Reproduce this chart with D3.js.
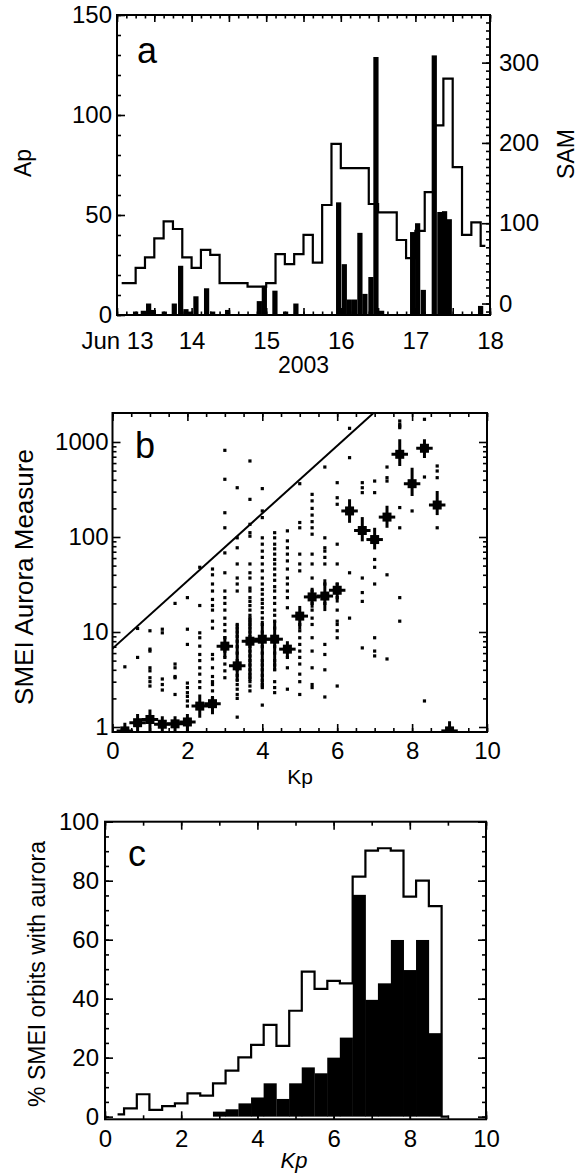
<!DOCTYPE html>
<html lang="en">
<head>
  <meta charset="UTF-8">
  <title>SMEI aurora and Kp</title>
  <script src="https://d3js.org/d3.v7.min.js"></script>
  <style>
    body { margin: 0; background: #fff; }
    svg { display: block; }
    text { font-family: "Liberation Sans", Arial, Helvetica, sans-serif; fill: #000; }
  </style>
</head>
<body>
<svg id="fig"></svg>
<script>
  // ---- panel a: 3-hourly Ap, June 13-18 2003, and SAM per SMEI orbit
  const apVals = [15.9, 15.9, 23.6, 28.8, 38.3, 46.8, 43, 28.8, 23.6, 32.6,
                  30.1, 15.9, 15.9, 15.9, 14.2, 14.2, 15.9, 30.4, 25.4, 30.4,
                  40.1, 26.2, 55, 85.6, 73.4, 73.4, 73.4, 55.5, 51.3, 51.3,
                  37.5, 28.4, 42.1, 61.4, 94.8, 118.2, 73.9, 40.1, 46.3, 34.6];
  const samDay = [13.214, 13.318, 13.389, 13.452, 13.599, 13.733, 13.818, 13.889, 13.942, 14.023,
                  14.166, 14.247, 14.448, 14.873, 14.940, 15.082, 15.225, 15.363, 15.936, 16.012,
                  16.079, 16.150, 16.221, 16.288, 16.369, 16.436, 16.512, 16.928, 16.995, 17.071,
                  17.218, 17.293, 17.356, 17.419, 17.839];
  const samVal = [-10, -9, 0, -8, -10, 0, 47, -7, -10, 9,
                  19, -10, -8, 3, 22, 16, -10, 0, 126, 49,
                  5, 5, 88, 12, 33, 307, -9, 89, 100, 17,
                  309, 114, 115, 105, -3];
  const orbitDays = 101 / 1440;

  // ---- panel b: medians per Kp with spread, fitted line, individual orbits
  const medKp  = [0.33, 0.67, 1, 1.33, 1.67, 2, 2.33, 2.67, 3, 3.33, 3.67, 4, 4.33, 4.67,
                  5, 5.33, 5.67, 6, 6.33, 6.67, 7, 7.33, 7.67, 8, 8.33, 8.67, 9];
  const medVal = [0.91, 1.11, 1.2, 1.07, 1.08, 1.13, 1.66, 1.76, 7.1, 4.4, 8.0, 8.4, 8.4, 6.6,
                  14.7, 23.4, 23.9, 27.5, 188, 117, 94, 162, 742, 364, 859, 217, 0.91];
  const medLo  = [0.85, 0.91, 0.9, 0.9, 0.9, 0.9, 1.25, 1.36, 5.4, 3.05, 3.05, 2.6, 3.9, 5.4,
                  10.7, 18, 16.6, 20.4, 141, 90, 74, 125, 560, 270, 680, 170, 0.85];
  const medHi  = [1.11, 1.37, 1.53, 1.3, 1.3, 1.37, 2.2, 2.12, 9.1, 12.1, 14.1, 13.1, 13.1, 8.0,
                  18.8, 29.2, 35.9, 33, 250, 162, 125, 213, 1070, 535, 1070, 304, 1.15];
  const lineKp  = [0, 7];
  const lineVal = [6.7, 2070];
  const dotKp = [0.33, 0.67, 1, 1.33, 1.67, 2, 2.33, 2.67, 3, 3.33, 3.67, 4, 4.33, 4.67,
                 5, 5.33, 5.67, 6, 6.33, 6.67, 7, 7.33, 7.67, 8, 8.33, 8.67];
  const dotVals = [
    [4.3],
    [10.9, 5.4],
    [10.3, 6.6, 6.3, 4.2, 3.9, 3.3, 3.0, 2.7],
    [10.7, 9.8, 3.2, 2.8, 2.45],
    [20, 4.6, 4.2, 3.4, 3.3, 2.2],
    [23, 10.7, 7.4, 2.9, 2.6, 2.3, 2.1, 1.88, 1.66],
    [48, 19, 9.8, 8.7, 7.1, 5.8, 5.0, 4.2, 3.6, 3.0, 2.6],
    [46, 40, 32, 27, 22, 19, 17, 13, 11, 5.8, 5.2, 4.2, 3.4, 3.0, 2.8, 2.4, 2.0],
    [817, 405, 180, 125, 68, 42, 27, 23, 20, 17, 14, 12, 10.3, 8.7, 6.3, 5.4, 4.6, 3.9, 3.3],
    [330, 98, 77, 52, 37, 32, 27, 12, 11, 10, 9, 8, 7, 6, 5, 4.4, 4, 3.5, 3.1, 2.8, 2.5, 2.2, 2.0, 1.27],
    [631, 249, 136, 111, 102, 52, 42, 37, 29, 27, 23, 21, 19, 17, 15, 14, 13, 12, 11, 10, 9, 8, 7,
     6.3, 5.6, 5.0, 4.5, 4.0, 3.6, 3.3, 3.0, 2.7, 2.4],
    [323, 188, 160, 98, 84, 71, 61, 52, 44, 37, 32, 28, 25, 22, 20, 18, 16, 14, 12, 10, 9, 8, 7,
     6, 5, 4.5, 4, 3.5, 3.1, 2.8, 2.6, 1.7],
    [111, 98, 84, 75, 66, 58, 52, 46, 40, 35, 30, 27, 23, 20, 17, 15, 13, 11, 9, 8, 7, 6, 5,
     4.5, 4, 3.0, 2.6, 2.3],
    [116, 91, 77, 66, 56, 46, 37, 32, 27, 23, 18, 5.4, 4.2, 2.5],
    [364, 142, 125, 66, 52, 44, 12, 10.3, 8.7, 7.4, 6.3, 5.4, 4.6, 3.6, 3.0, 2.2],
    [281, 240, 200, 170, 145, 125, 107, 66, 52, 37, 27, 20, 17, 14, 12, 8.7, 6.3, 4.2, 2.8, 2.6],
    [545, 98, 77, 71, 61, 52, 32, 20, 7.4, 5.8, 4.0, 2.07],
    [373, 259, 221, 84, 52, 32, 23, 17, 13, 12, 10.3, 8.7, 2.7],
    [1393, 684, 42, 14],
    [373, 330, 293, 37, 26, 21, 6.8],
    [388, 293, 58, 48, 32, 8.7, 6.3, 5.6],
    [545, 421, 388, 40, 5.2],
    [1663, 1535, 1473, 1416, 204, 125, 23, 13],
    [188],
    [1733, 428, 1.88],
    [559, 495, 421, 125]
  ];

  // ---- panel c: % of orbits with aurora per Kp (all, and large ones)
  const pctKp  = [0.33, 0.67, 1, 1.33, 1.67, 2, 2.33, 2.67, 3, 3.33, 3.67, 4, 4.33, 4.67,
                  5, 5.33, 5.67, 6, 6.33, 6.67, 7, 7.33, 7.67, 8, 8.33, 8.67, 9];
  const pctAll = [0.8, 2.8, 7.6, 2.3, 3.6, 4.5, 7.9, 7.1, 11.3, 15.6, 20.1, 24.3, 31.1, 24.0,
                  35.9, 49.2, 43.3, 46.0, 45.2, 81.4, 90.2, 91.0, 90.2, 74.6, 80.0, 71.4, 0];
  const bigKp  = [3, 3.33, 3.67, 4, 4.33, 4.67, 5, 5.33, 5.67, 6, 6.33, 6.67, 7, 7.33, 7.67, 8, 8.33, 8.67];
  const pctBig = [1.7, 2.5, 4.5, 6.5, 11.3, 6.0, 11.3, 16.7, 14.7, 20.0, 26.8, 75.2,
                  39.6, 45.2, 59.9, 49.7, 59.9, 28.3];

  const FONT = '"Liberation Sans", Arial, Helvetica, sans-serif';
  const svg = d3.select("#fig").attr("width", 579).attr("height", 1174);

  // inward IDL-style ticks, domain line dropped (frame drawn separately)
  function axis(gen, tr, vals, size, fmt, pad) {
    const g = svg.append("g").attr("transform", tr)
      .call(gen.tickValues(vals).tickSize(-size).tickPadding(pad || 0).tickFormat(fmt || (() => "")));
    g.select(".domain").remove();
    g.selectAll("line").attr("stroke", "#000").attr("stroke-width", 1.6);
    g.attr("font-size", 24).attr("font-family", FONT);
    g.selectAll("text").attr("fill", "#000");
    return g;
  }
  function frame(x0, y0, x1, y1) {
    svg.append("rect").attr("x", x0).attr("y", y0)
      .attr("width", x1 - x0).attr("height", y1 - y0)
      .attr("fill", "none").attr("stroke", "#000").attr("stroke-width", 2);
  }
  function steps(a, b, s) { return d3.range(a, b + s / 2, s); }
  function label(x, y, txt, size, rot, style) {
    const t = svg.append("text").attr("font-size", size).attr("text-anchor", rot ? "middle" : "start")
      .attr("transform", "translate(" + x + "," + y + ")" + (rot ? " rotate(-90)" : ""))
      .text(txt);
    if (style) t.attr("font-style", style);
    return t;
  }

  // ================= panel a
  const xA = d3.scaleLinear().domain([13, 18]).range([117, 490]);
  const yA = d3.scaleLinear().domain([0, 150]).range([315, 15]);
  const ySam = d3.scaleLinear().domain([-14.3, 359.3]).range([315, 15]);

  svg.append("g").selectAll("rect").data(samDay).join("rect")
    .attr("x", d => xA(d))
    .attr("width", d => xA(d + orbitDays) - xA(d))
    .attr("y", (d, i) => ySam(samVal[i]))
    .attr("height", (d, i) => ySam(-14.3) - ySam(samVal[i]))
    .attr("fill", "#000");

  const apPts = apVals.map((v, i) => [13 + (3 * i + 1.5) / 24, v]);
  svg.append("path")
    .attr("d", d3.line().x(d => xA(d[0])).y(d => yA(d[1])).curve(d3.curveStep)(apPts))
    .attr("fill", "none").attr("stroke", "#000").attr("stroke-width", 2.2);

  frame(117, 15, 490, 315);
  axis(d3.axisBottom(xA), "translate(0,315)", steps(13, 18, 0.5), 7,
       d => d % 1 ? "" : (d === 13 ? "Jun 13" : d), 16.5);
  axis(d3.axisBottom(xA), "translate(0,315)", steps(13, 18, 0.125), 3.5);
  axis(d3.axisTop(xA), "translate(0,15)", steps(13, 18, 0.5), 7);
  axis(d3.axisTop(xA), "translate(0,15)", steps(13, 18, 0.125), 3.5);
  axis(d3.axisLeft(yA), "translate(117,0)", [0, 50, 100, 150], 8, d => d, 5);
  axis(d3.axisLeft(yA), "translate(117,0)", steps(0, 150, 10), 4);
  axis(d3.axisRight(ySam), "translate(490,0)", [0, 100, 200, 300], 8, d => d, 9);
  axis(d3.axisRight(ySam), "translate(490,0)", steps(-10, 350, 10), 4);

  label(137, 63, "a", 36);
  label(31, 163, "Ap", 23, true);
  label(574, 154, "SAM", 23, true);
  label(303.5, 373, "2003", 23).attr("text-anchor", "middle");

  // ================= panel b
  const xB = d3.scaleLinear().domain([0, 10]).range([112.5, 487]);
  const yB = d3.scaleLog().domain([0.886, 2019]).range([732, 413]);

  svg.append("clipPath").attr("id", "clipB").append("rect")
    .attr("x", 112.5).attr("y", 413).attr("width", 374.5).attr("height", 319);
  const gb = svg.append("g").attr("clip-path", "url(#clipB)");

  gb.append("path")
    .attr("d", d3.line().x((d, i) => xB(d)).y((d, i) => yB(lineVal[i]))(lineKp))
    .attr("fill", "none").attr("stroke", "#000").attr("stroke-width", 2);

  const dots = dotKp.flatMap((k, i) => dotVals[i].map(v => [k, v]));
  gb.append("g").selectAll("rect").data(dots).join("rect")
    .attr("x", d => xB(d[0]) - 1.6).attr("y", d => yB(d[1]) - 1.6)
    .attr("width", 3.2).attr("height", 3.2).attr("fill", "#000");

  const med = gb.append("g").attr("stroke", "#000").attr("stroke-width", 3);
  med.selectAll("line.v").data(medKp).join("line").attr("class", "v")
    .attr("x1", d => xB(d)).attr("x2", d => xB(d))
    .attr("y1", (d, i) => yB(medLo[i])).attr("y2", (d, i) => yB(medHi[i]));
  med.selectAll("line.h").data(medKp).join("line").attr("class", "h")
    .attr("x1", d => xB(d - 0.22)).attr("x2", d => xB(d + 0.22))
    .attr("y1", (d, i) => yB(medVal[i])).attr("y2", (d, i) => yB(medVal[i]));
  gb.append("g").selectAll("rect").data(medKp).join("rect")
    .attr("x", d => xB(d) - 4.5).attr("y", (d, i) => yB(medVal[i]) - 4.5)
    .attr("width", 9).attr("height", 9).attr("fill", "#000");

  frame(112.5, 413, 487, 732);
  const decades = [1, 10, 100, 1000];
  const minorLog = [1, 10, 100].flatMap(d => [2, 3, 4, 5, 6, 7, 8, 9].map(m => m * d));
  axis(d3.axisLeft(yB), "translate(112.5,0)", decades, 8, d => d, 4);
  axis(d3.axisLeft(yB), "translate(112.5,0)", minorLog, 4);
  axis(d3.axisRight(yB), "translate(487,0)", decades, 8);
  axis(d3.axisRight(yB), "translate(487,0)", minorLog, 4);
  axis(d3.axisBottom(xB), "translate(0,732)", steps(0, 10, 2), 8, d => d, 10);
  axis(d3.axisBottom(xB), "translate(0,732)", steps(0, 10, 0.5), 4);
  axis(d3.axisTop(xB), "translate(0,413)", steps(0, 10, 2), 8);
  axis(d3.axisTop(xB), "translate(0,413)", steps(0, 10, 0.5), 4);

  label(135, 458, "b", 36);
  label(300, 784, "Kp", 21).attr("text-anchor", "middle");
  label(33, 577, "SMEI Aurora Measure", 26, true);

  // ================= panel c
  const xC = d3.scaleLinear().domain([0, 10]).range([105, 486]);
  const yC = d3.scaleLinear().domain([-0.9, 100]).range([1119.3, 821.7]);

  svg.append("g").selectAll("rect").data(bigKp).join("rect")
    .attr("x", d => xC(d - 1 / 6))
    .attr("width", xC(1 / 3) - xC(0) + 0.4)
    .attr("y", (d, i) => yC(pctBig[i]))
    .attr("height", (d, i) => yC(0) - yC(pctBig[i]))
    .attr("fill", "#000");

  svg.append("path")
    .attr("d", d3.line().x(d => xC(d)).y((d, i) => yC(pctAll[i])).curve(d3.curveStep)(pctKp))
    .attr("fill", "none").attr("stroke", "#000").attr("stroke-width", 2.2);

  frame(105, 821.7, 486, 1119.3);
  axis(d3.axisLeft(yC), "translate(105,0)", steps(0, 100, 20), 8, d => d, 6);
  axis(d3.axisLeft(yC), "translate(105,0)", steps(0, 100, 5), 4);
  axis(d3.axisRight(yC), "translate(486,0)", steps(0, 100, 20), 8);
  axis(d3.axisRight(yC), "translate(486,0)", steps(0, 100, 5), 4);
  axis(d3.axisBottom(xC), "translate(0,1119.3)", steps(0, 10, 2), 8, d => d, 10.5);
  axis(d3.axisBottom(xC), "translate(0,1119.3)", steps(0, 10, 1), 4);
  axis(d3.axisTop(xC), "translate(0,821.7)", steps(0, 10, 2), 8);
  axis(d3.axisTop(xC), "translate(0,821.7)", steps(0, 10, 1), 4);

  label(128, 866, "c", 36);
  label(294, 1168, "Kp", 22, false, "italic").attr("text-anchor", "middle");
  label(45, 974, "% SMEI orbits with aurora", 23, true);
</script>
</body>
</html>
